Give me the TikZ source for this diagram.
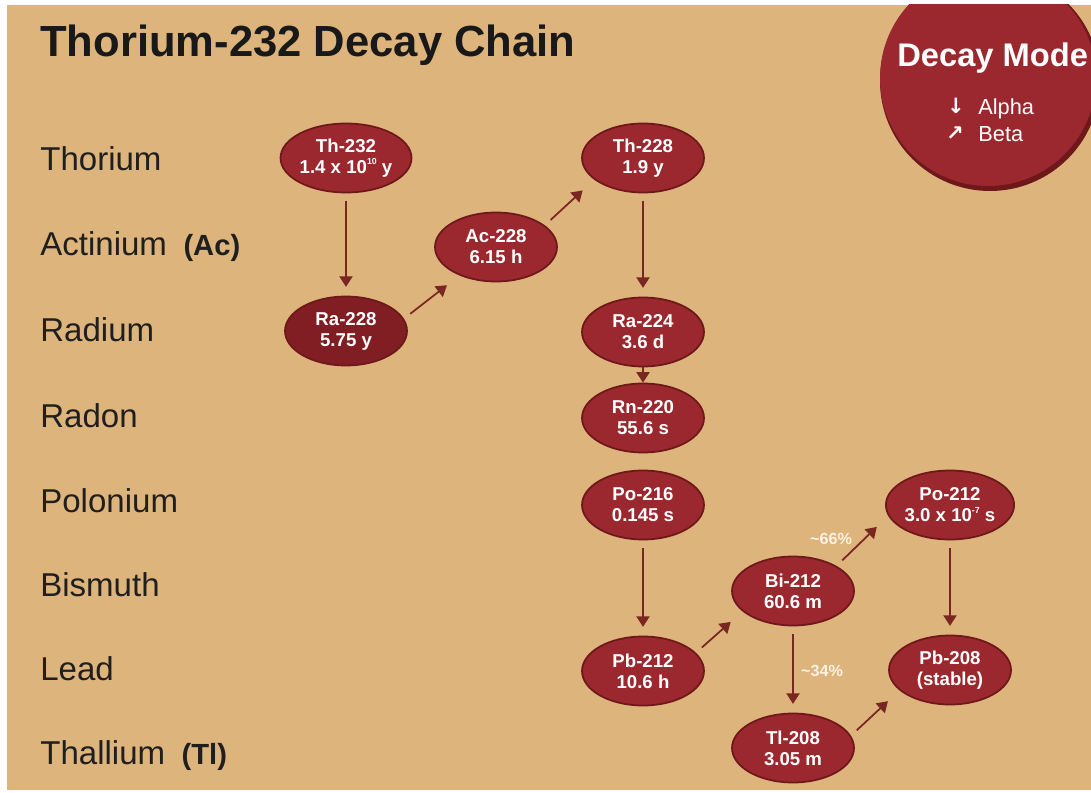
\documentclass[tikz,border=0pt]{standalone}
\usepackage{fontspec}
\setmainfont{Liberation Sans}
\newfontfamily\symfont{DejaVu Sans}
\usetikzlibrary{shapes.geometric, arrows.meta}

\definecolor{sand}{RGB}{221,180,123}
\definecolor{decay}{RGB}{155,40,46}
\definecolor{decaydark}{RGB}{110,24,28}
\definecolor{radark}{RGB}{128,30,35}
\definecolor{arrowred}{RGB}{122,38,34}
\definecolor{pct}{RGB}{250,242,228}

\newcommand{\sups}[1]{\raisebox{0.9ex}{\fontsize{5}{5}\selectfont #1}}

\begin{document}
\begin{tikzpicture}[x = 0.02cm, y = -0.02cm,
    nuclide/.style = {ellipse, draw = decaydark, line width = 1pt, fill = decay,
                      minimum width = 2.44cm, minimum height = 1.38cm, inner sep = 0pt,
                      text = white, align = center,
                      font = \fontsize{10.6}{12}\selectfont\bfseries},
    element/.style = {anchor = base west, inner sep = 0pt, text = black!88,
                      font = \fontsize{18.8}{20}\selectfont},
    alpha/.style = {draw = arrowred, line width = 1pt,
                    -{Triangle[width = 7.5pt, length = 6pt]},
                    shorten <= 4.5pt, shorten >= 5pt},
    beta/.style = {alpha, shorten >= 9pt},
    branch/.style = {text = pct, font = \fontsize{9.2}{10}\selectfont\bfseries}]

  \useasboundingbox (0,0) rectangle (1091,793);
  \fill[white] (0,0) rectangle (1091,793);
  \fill[sand] (7,5) rectangle (1091,790);

  \begin{scope}
    \clip (7,5) rectangle (1091,790);
    \fill[decaydark] (990,81) circle (110);
    \fill[decay] (988,78) circle (108);
  \end{scope}

  \node[anchor = base west, inner sep = 0pt, text = black!90,
        font = \fontsize{24.8}{26}\selectfont\bfseries] (title) at (40,57) {Thorium-232 Decay Chain};

  \node[anchor = base west, inner sep = 0pt, text = white,
        font = \fontsize{18.6}{20}\selectfont\bfseries] (mode) at (897,67) {Decay Mode};
  \node[text = white, font = \fontsize{12}{14}\selectfont\symfont\bfseries] (down) at (956,106) {↓};
  \node[text = white, font = \fontsize{12}{14}\selectfont\symfont\bfseries] (up) at (955,134) {↗};
  \node[anchor = base west, inner sep = 0pt, text = white,
        font = \fontsize{12.4}{14}\selectfont] (alphatxt) at (978,115) {Alpha};
  \node[anchor = base west, inner sep = 0pt, text = white,
        font = \fontsize{12.4}{14}\selectfont] (betatxt) at (978,142) {Beta};

  \node[element] (thorium) at (40,171) {Thorium};
  \node[element] (actinium) at (40,256) {Actinium\hspace{0.5em}{\fontsize{16.6}{18}\selectfont\bfseries (Ac)}};
  \node[element] (radium) at (40,342) {Radium};
  \node[element] (radon) at (40,427) {Radon};
  \node[element] (polonium) at (40,512) {Polonium};
  \node[element] (bismuth) at (40,596) {Bismuth};
  \node[element] (lead) at (40,680) {Lead};
  \node[element] (thallium) at (40,764) {Thallium\hspace{0.5em}{\fontsize{16.6}{18}\selectfont\bfseries (Tl)}};

  \node[nuclide] (th232) at (346,158) {Th-232\\1.4 x 10\sups{10} y};
  \node[nuclide] (th228) at (643,158) {Th-228\\1.9 y};
  \node[nuclide] (ac228) at (496,247) {Ac-228\\6.15 h};
  \node[nuclide, fill = radark] (ra228) at (346,331) {Ra-228\\5.75 y};
  \node[nuclide] (ra224) at (643,332) {Ra-224\\3.6 d};
  \node[nuclide] (rn220) at (643,418) {Rn-220\\55.6 s};
  \node[nuclide] (po216) at (643,505) {Po-216\\0.145 s};
  \node[nuclide] (po212) at (950,505) {Po-212\\3.0 x 10\sups{-7} s};
  \node[nuclide] (bi212) at (793,591) {Bi-212\\60.6 m};
  \node[nuclide] (pb212) at (643,671) {Pb-212\\10.6 h};
  \node[nuclide] (pb208) at (950,670) {Pb-208\\(stable)};
  \node[nuclide] (tl208) at (793,748) {Tl-208\\3.05 m};

  \draw[alpha] (th232.south) -- (ra228.north);
  \draw[alpha] (th228.south) -- (ra224.north);
  \draw[alpha, shorten <= 0pt, shorten >= 0pt] (ra224.south) -- (rn220.north);
  \draw[alpha] (po216.south) -- (pb212.north);
  \draw[alpha] (bi212.south) -- (tl208.north);
  \draw[alpha] (po212.south) -- (pb208.north);

  \draw[beta] (ra228.12) -- (ac228.218);
  \draw[beta] (ac228.24) -- (th228.204);
  \draw[beta] (pb212.19) -- (bi212.202);
  \draw[beta] (bi212.30) -- (po212.190);
  \draw[beta] (tl208.12) -- (pb208.202);

  \node[branch] (p66) at (831,539) {\textasciitilde 66\%};
  \node[branch] (p34) at (822,671) {\textasciitilde 34\%};
\end{tikzpicture}
\end{document}
